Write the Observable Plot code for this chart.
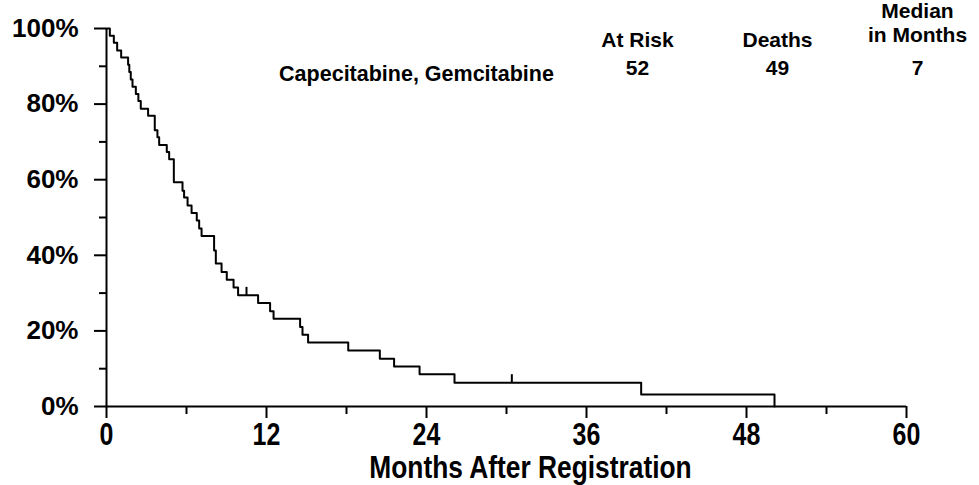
<!DOCTYPE html>
<html><head><meta charset="utf-8">
<script src="https://cdn.jsdelivr.net/npm/d3@7"></script>
<script src="https://cdn.jsdelivr.net/npm/@observablehq/plot@0.6"></script>
<style>
body{margin:0;background:#fff}
#chart{width:979px;height:485px}
</style></head><body><div id="chart"></div>
<script>
// Kaplan-Meier step points (months, % surviving)
const months =   [0,0.25,0.55,0.8,1.1,1.62,1.71,1.82,1.95,2.2,2.39,2.57,3.12,3.62,3.82,3.95,4.52,4.7,5.05,5.7,5.82,6.08,6.38,6.77,6.95,7.13,8.07,8.2,8.63,9.02,9.53,9.87,11.37,12.27,12.53,14.52,14.7,15.12,18.13,20.5,21.57,23.48,26.1,40.1,50.1];
const survival = [100,98.1,96.2,94.2,92.3,90.4,88.5,86.5,84.6,82.7,80.8,78.8,76.9,73.1,71.2,69.2,67.3,65.4,59.3,57.1,55.3,53.2,51.2,49.2,47.1,45.1,41.3,37.8,35.6,33.5,31.5,29.4,27.4,25.2,23.2,21.0,19.0,16.9,14.8,12.6,10.6,8.5,6.3,3.2,0];
const censorMonths = [10.5, 30.4];
const censorSurvival = [29.4, 6.3];

const xTicks = [0,12,24,36,48,60];
const xMinorTicks = [6,18,30,42,54];
const yTicks = [0,20,40,60,80,100];
const yMinorTicks = [10,30,50,70,90];
const xLabel = "Months After Registration";

const groupName = ["Capecitabine, Gemcitabine"];
const legendHeaders = ["At Risk","Deaths","Median\nin Months"];
const legendValues = ["52","49","7"];

const curve = months.map((m,i)=>({m, s: survival[i]}));
const censors = censorMonths.map((m,i)=>({m, s: censorSurvival[i]}));

const font = "Liberation Sans, Arial, Helvetica, sans-serif";
const colDx = [531, 671, 811];
const headerDy = [2, 2, -27];

const marks = [
  Plot.ruleY([0], {stroke:"black", strokeWidth:2}),
  Plot.ruleX([0], {stroke:"black", strokeWidth:2}),
  Plot.axisY(yTicks, {tickSize:12, tickPadding:16, tickFormat:d=>d+"%", fontSize:26, fontWeight:"bold", strokeWidth:2, label:null}),
  Plot.axisY(yMinorTicks, {tickSize:7, strokeWidth:2, tickFormat:()=>"", label:null}),
  Plot.axisX(xTicks, {tickSize:12, tickPadding:4, fontSize:32, fontWeight:"bold", strokeWidth:2, label:null}),
  Plot.axisX(xMinorTicks, {tickSize:8, strokeWidth:2, tickFormat:()=>"", label:null}),
  Plot.text([xLabel], {frameAnchor:"bottom", dx:24, dy:71, fontSize:31, fontWeight:"bold"}),
  Plot.line(curve, {x:"m", y:"s", curve:"step-after", stroke:"black", strokeWidth:2}),
  Plot.ruleX(censors, {x:"m", y1:"s", y2:"s", insetTop:-8, stroke:"black", strokeWidth:2}),
  Plot.text(groupName, {frameAnchor:"top-left", textAnchor:"middle", dx:310, dy:37, fontSize:21.5, fontWeight:"bold"})
];
legendHeaders.forEach((h,i)=>{
  marks.push(Plot.text([h], {frameAnchor:"top-left", textAnchor:"middle", dx:colDx[i], dy:headerDy[i], fontSize:21, fontWeight:"bold", lineHeight:1.12}));
  marks.push(Plot.text([legendValues[i]], {frameAnchor:"top-left", textAnchor:"middle", dx:colDx[i], dy:32, fontSize:21, fontWeight:"bold"}));
});

const svg = Plot.plot({
  width:979, height:485,
  marginLeft:106, marginRight:73, marginTop:28, marginBottom:79,
  x:{domain:[0,60], axis:null},
  y:{domain:[0,100], axis:null},
  style:{fontFamily:font, color:"black", background:"white", overflow:"visible"},
  marks
});
document.getElementById("chart").appendChild(svg);

// condensed look for the x tick labels and the x title
const condense = new Map([...xTicks.map(d=>[String(d), 0.78]), [xLabel, 0.85]]);
d3.select(svg).selectAll("text").filter(function(){ return condense.has(this.textContent); }).each(function(){
  const k = condense.get(this.textContent);
  const t = this.getAttribute("transform");
  if (t && t.includes("translate")) this.setAttribute("transform", t + ` scale(${k},1)`);
  else {
    const x = +this.getAttribute("x") || 0;
    this.setAttribute("transform", `translate(${x},0) scale(${k},1) translate(${-x},0)`);
  }
});
</script></body></html>
